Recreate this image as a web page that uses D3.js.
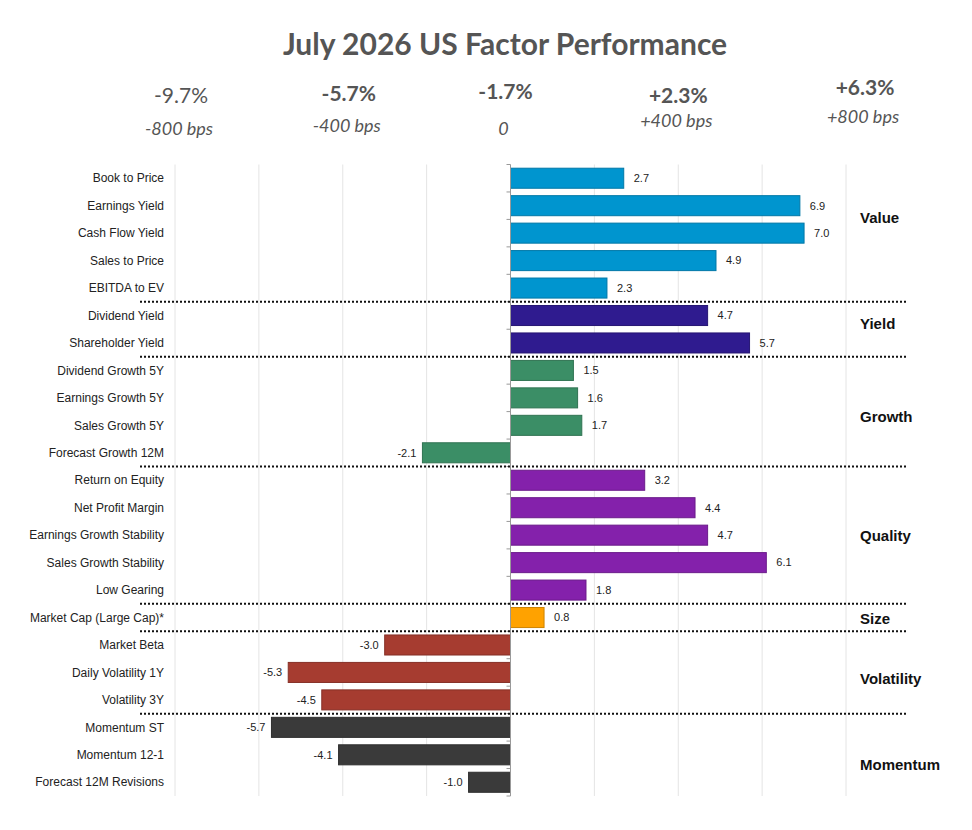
<!DOCTYPE html>
<html>
<head>
<meta charset="utf-8">
<script src="https://cdn.jsdelivr.net/npm/d3@7"></script>
<style>
  html, body { margin: 0; padding: 0; background: #fff; }
  svg { display: block; }
</style>
</head>
<body>
<div id="chart"></div>
<script>
const factors = [
  "Book to Price", "Earnings Yield", "Cash Flow Yield", "Sales to Price", "EBITDA to EV",
  "Dividend Yield", "Shareholder Yield",
  "Dividend Growth 5Y", "Earnings Growth 5Y", "Sales Growth 5Y", "Forecast Growth 12M",
  "Return on Equity", "Net Profit Margin", "Earnings Growth Stability", "Sales Growth Stability", "Low Gearing",
  "Market Cap (Large Cap)*",
  "Market Beta", "Daily Volatility 1Y", "Volatility 3Y",
  "Momentum ST", "Momentum 12-1", "Forecast 12M Revisions"
];
const values = [
  2.7, 6.9, 7.0, 4.9, 2.3,
  4.7, 5.7,
  1.5, 1.6, 1.7, -2.1,
  3.2, 4.4, 4.7, 6.1, 1.8,
  0.8,
  -3.0, -5.3, -4.5,
  -5.7, -4.1, -1.0
];
const groupNames = ["Value", "Yield", "Growth", "Quality", "Size", "Volatility", "Momentum"];
const groupSizes = [5, 2, 4, 5, 1, 3, 3];
const groupColors = ["#0095cf", "#2f1b8f", "#3b8e66", "#8421ab", "#ffa200", "#a63c30", "#3a3a3a"];

const headerTicks = [-8, -4, 0, 4, 8];
const headerReturns = ["-9.7%", "-5.7%", "-1.7%", "+2.3%", "+6.3%"];
const headerBps = ["-800 bps", "-400 bps", "0", "+400 bps", "+800 bps"];
const gridTicks = [-8, -6, -4, -2, 2, 4, 6, 8];

const W = 972, H = 830;

// build rows with their group index
const rows = [];
let gi = 0, count = 0;
factors.forEach((name, i) => {
  if (count === groupSizes[gi]) { gi++; count = 0; }
  rows.push({ name, value: values[i], group: gi });
  count++;
});

const svg = d3.select("#chart").append("svg").attr("width", W).attr("height", H);

const x = d3.scaleLinear().domain([-8, 8]).range([175, 846]);
const y = d3.scaleBand().domain(factors).range([164.5, 796]).paddingInner(0.27).paddingOuter(0.135);
const step = y.step();
const plotTop = y.range()[0];
const plotBottom = y.range()[1];

// title
svg.append("text")
  .attr("x", 505).attr("y", 55)
  .attr("text-anchor", "middle")
  .style("font-family", "Lato, 'Open Sans', sans-serif")
  .style("font-weight", "bold")
  .style("font-size", "30px")
  .style("fill", "#555")
  .text("July 2026 US Factor Performance");

// header scale labels (small hand offsets to follow the original layout)
const headDx = [6, 6, -5, 0, 19];
const headPctY = [103, 101, 99, 103, 95];
const headBpsY = [135, 132, 135, 127, 123];
const header = svg.append("g").attr("class", "header");
headerTicks.forEach((t, i) => {
  header.append("text")
    .attr("x", x(t) + headDx[i]).attr("y", headPctY[i])
    .attr("text-anchor", "middle")
    .style("font-family", "Lato, 'Open Sans', sans-serif")
    .style("font-weight", i === 0 ? "normal" : "bold")
    .style("font-size", "21px")
    .style("fill", "#555")
    .text(headerReturns[i]);
  header.append("text")
    .attr("x", x(t) + headDx[i] - 2).attr("y", headBpsY[i])
    .attr("text-anchor", "middle")
    .style("font-family", "Lato, 'Open Sans', sans-serif")
    .style("font-style", "italic")
    .style("font-size", "18px")
    .style("fill", "#555")
    .text(headerBps[i]);
});

// gridlines
svg.append("g")
  .selectAll("line")
  .data(gridTicks)
  .enter()
  .append("line")
  .attr("x1", (d) => x(d)).attr("x2", (d) => x(d))
  .attr("y1", plotTop).attr("y2", plotBottom)
  .style("stroke", "#e4e4e4")
  .style("stroke-width", 1);

// bars
svg.append("g")
  .selectAll("rect")
  .data(rows)
  .enter()
  .append("rect")
  .attr("x", (d) => x(Math.min(0, d.value)))
  .attr("width", (d) => Math.abs(x(d.value) - x(0)))
  .attr("y", (d) => y(d.name))
  .attr("height", y.bandwidth())
  .style("fill", (d) => groupColors[d.group])
  .style("stroke", (d) => d3.color(groupColors[d.group]).darker(0.6))
  .style("stroke-width", 1);

// zero axis with small left ticks at band boundaries
const axis = svg.append("g").attr("class", "zero-axis");
axis.append("line")
  .attr("x1", x(0)).attr("x2", x(0))
  .attr("y1", plotTop).attr("y2", plotBottom)
  .style("stroke", "#999")
  .style("stroke-width", 1);
axis.selectAll(".tick")
  .data(d3.range(factors.length + 1))
  .enter()
  .append("line")
  .attr("x1", x(0) - 4).attr("x2", x(0))
  .attr("y1", (i) => plotTop + i * step).attr("y2", (i) => plotTop + i * step)
  .style("stroke", "#999")
  .style("stroke-width", 1);

// category labels
svg.append("g")
  .selectAll("text")
  .data(rows)
  .enter()
  .append("text")
  .attr("x", 164)
  .attr("y", (d) => y(d.name) + y.bandwidth() / 2)
  .attr("dy", "0.35em")
  .attr("text-anchor", "end")
  .style("font-family", "Arial, 'Liberation Sans', sans-serif")
  .style("font-size", "12px")
  .style("fill", "#222")
  .text((d) => d.name);

// value labels (plain hyphen minus, as in the original)
const fmt = d3.formatLocale({ decimal: ".", thousands: ",", grouping: [3], currency: ["", ""], minus: "-" }).format(".1f");
svg.append("g")
  .selectAll("text")
  .data(rows)
  .enter()
  .append("text")
  .attr("x", (d) => (d.value >= 0 ? x(d.value) + 10 : x(d.value) - 6))
  .attr("y", (d) => y(d.name) + y.bandwidth() / 2)
  .attr("dy", "0.35em")
  .attr("text-anchor", (d) => (d.value >= 0 ? "start" : "end"))
  .style("font-family", "Arial, 'Liberation Sans', sans-serif")
  .style("font-size", "11px")
  .style("fill", "#222")
  .text((d) => fmt(d.value));

// dotted separators and group labels
const labelDy = [-15, -5, 5, 1, 1, 6, 10];
let start = 0;
const sep = svg.append("g");
groupNames.forEach((g, i) => {
  const end = start + groupSizes[i];
  if (i < groupNames.length - 1) {
    sep.append("line")
      .attr("x1", 140).attr("x2", 908)
      .attr("y1", plotTop + end * step).attr("y2", plotTop + end * step)
      .style("stroke", "#111")
      .style("stroke-width", 2)
      .style("stroke-dasharray", "2,2");
  }
  sep.append("text")
    .attr("x", 860)
    .attr("y", plotTop + ((start + end) / 2) * step + labelDy[i])
    .attr("dy", "0.35em")
    .style("font-family", "Arial, 'Liberation Sans', sans-serif")
    .style("font-weight", "bold")
    .style("font-size", "15px")
    .style("fill", "#111")
    .text(g);
  start = end;
});
</script>
</body>
</html>
